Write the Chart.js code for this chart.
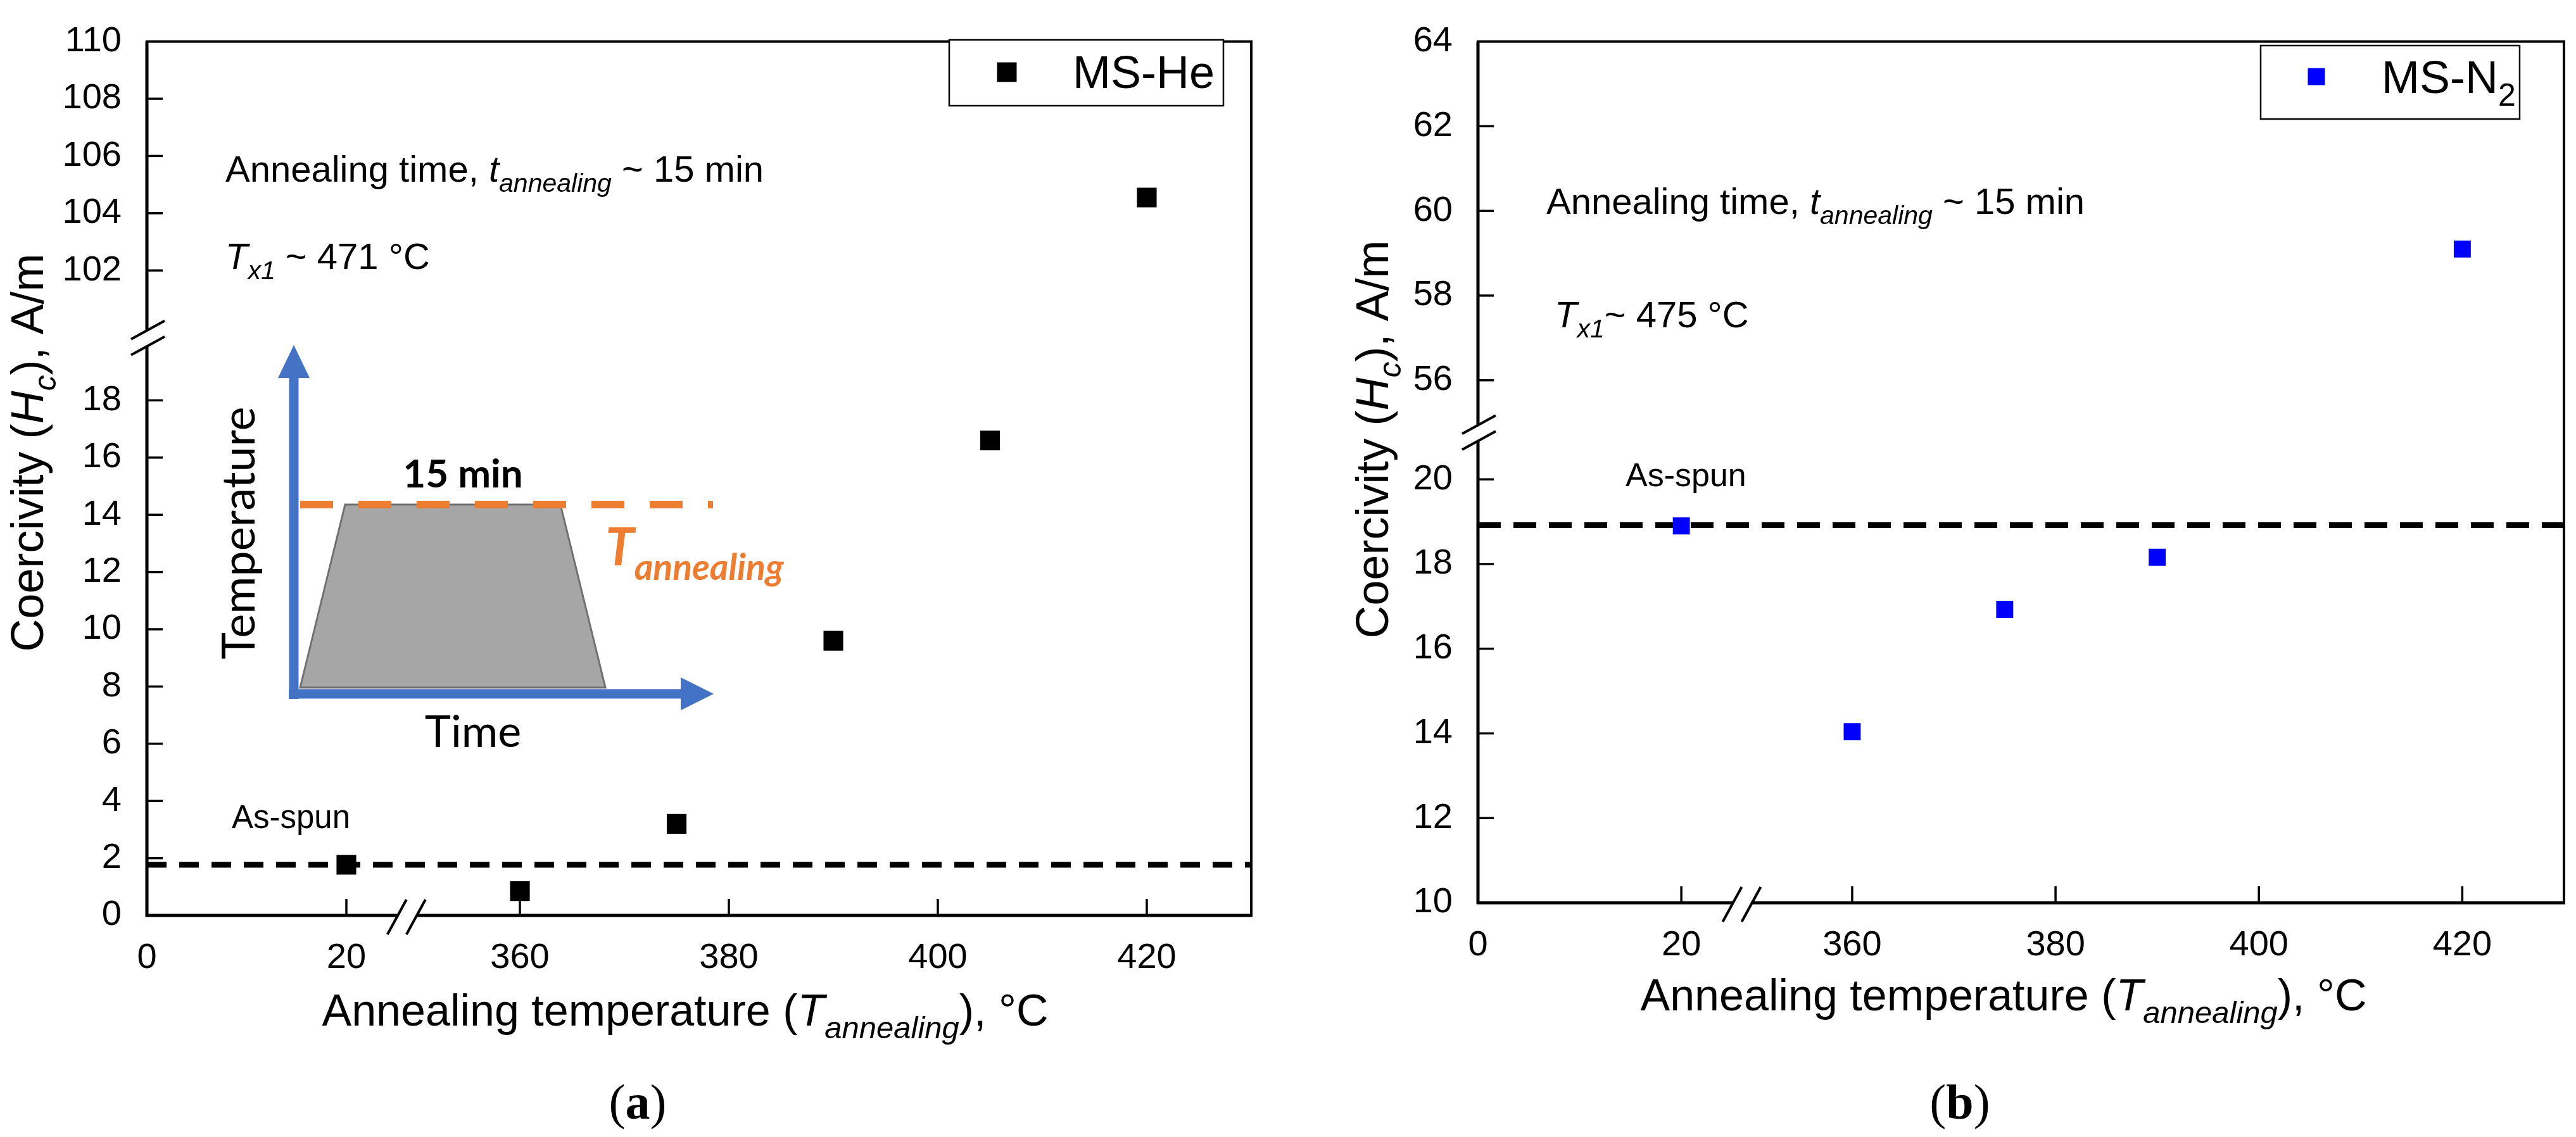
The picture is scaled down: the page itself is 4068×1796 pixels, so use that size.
<!DOCTYPE html>
<html>
<head>
<meta charset="utf-8">
<script src="https://cdn.jsdelivr.net/npm/chart.js@4.4.1/dist/chart.umd.min.js"></script>
<style>
  body { margin: 0; background: #fff; }
  #wrap { position: relative; width: 4068px; height: 1796px; background: #fff; }
  canvas { position: absolute; top: 0; }
  #chartA { left: 0; }
  #chartB { left: 2034px; }
</style>
</head>
<body>
<div id="wrap">
  <canvas id="chartA" width="2034" height="1796"></canvas>
  <canvas id="chartB" width="2034" height="1796"></canvas>
</div>
<script>
// ---- data ----
const tempHe = [20, 360, 375, 390, 405, 420];
const hcHe = [1.77, 0.85, 3.2, 9.6, 16.6, 104.55];
const asSpunHe = 1.77;

const tempN2 = [20, 360, 375, 390, 420];
const hcN2 = [18.9, 14.04, 16.93, 18.16, 59.1];
const asSpunN2 = 18.92;

const xTickLabels = [0, 20, 360, 380, 400, 420];
const yTicksHe = [0, 2, 4, 6, 8, 10, 12, 14, 16, 18, 102, 104, 106, 108, 110];
const yTicksN2 = [10, 12, 14, 16, 18, 20, 56, 58, 60, 62, 64];

const SANS = '"Liberation Sans", Arial, sans-serif';
const INSET = 'Lato, "Open Sans", sans-serif';
const SERIF = '"Liberation Serif", "Times New Roman", serif';

// broken axes: map real values onto one continuous scale
function brokenMap(lowEnd, lowFactor, offset) {
  return v => (v <= lowEnd ? v * lowFactor : v - offset);
}

// rich text: parts = [{t, it, b, sub}]
function partFont(p, size, family) {
  const s = p.sub ? size * 0.7 : size;
  return (p.it ? 'italic ' : '') + (p.b ? 'bold ' : '') + Math.round(s) + 'px ' + (p.family || family);
}
function drawRich(ctx, parts, x, y, size, align, color, family) {
  family = family || SANS;
  ctx.save();
  ctx.fillStyle = color || '#000';
  ctx.textBaseline = 'alphabetic';
  ctx.textAlign = 'left';
  let total = 0;
  parts.forEach(p => {
    ctx.font = partFont(p, size, family);
    p._w = ctx.measureText(p.t).width;
    total += p._w;
  });
  let cx = align === 'center' ? x - total / 2 : (align === 'right' ? x - total : x);
  parts.forEach(p => {
    ctx.font = partFont(p, size, family);
    ctx.fillText(p.t, cx, y + (p.sub ? size * 0.28 : 0));
    cx += p._w;
  });
  ctx.restore();
}
function drawRotated(ctx, parts, x, y, size, family) {
  ctx.save();
  ctx.translate(x, y);
  ctx.rotate(-Math.PI / 2);
  drawRich(ctx, parts, 0, 0, size, 'center', '#000', family);
  ctx.restore();
}

function line(ctx, x1, y1, x2, y2) {
  ctx.beginPath();
  ctx.moveTo(x1, y1);
  ctx.lineTo(x2, y2);
  ctx.stroke();
}

function arrow(ctx, x1, y1, x2, y2, shaft, headLen, headW) {
  const ang = Math.atan2(y2 - y1, x2 - x1);
  const len = Math.hypot(x2 - x1, y2 - y1);
  ctx.save();
  ctx.translate(x1, y1);
  ctx.rotate(ang);
  ctx.fillRect(0, -shaft / 2, len - headLen + 1, shaft);
  ctx.beginPath();
  ctx.moveTo(len, 0);
  ctx.lineTo(len - headLen, -headW / 2);
  ctx.lineTo(len - headLen, headW / 2);
  ctx.closePath();
  ctx.fill();
  ctx.restore();
}

// frame, inward ticks and break marks
function drawFrame(chart, cfg) {
  const ctx = chart.ctx;
  const a = chart.chartArea;
  const xs = chart.scales.x, ys = chart.scales.y;
  ctx.save();
  ctx.strokeStyle = '#000';
  ctx.lineCap = 'butt';
  ctx.lineWidth = 4;
  ctx.strokeRect(a.left, a.top, a.right - a.left, a.bottom - a.top);
  ctx.lineWidth = 5;
  line(ctx, a.left, a.top, a.left, a.bottom + 2);
  line(ctx, a.left - 2, a.bottom, a.right + 2, a.bottom);

  ctx.lineWidth = 3.5;
  ys.ticks.forEach(t => {
    const py = ys.getPixelForValue(t.value);
    if (py < a.top + 3 || py > a.bottom - 3) return;
    line(ctx, a.left, py, a.left + 25, py);
  });
  xs.ticks.forEach(t => {
    const px = xs.getPixelForValue(t.value);
    if (px < a.left + 3 || px > a.right - 3) return;
    line(ctx, px, a.bottom, px, a.bottom - 26);
  });

  // y break
  const by = ys.getPixelForValue(cfg.yBreak);
  ctx.fillStyle = '#fff';
  ctx.fillRect(a.left - 6, by - 12, 12, 24);
  ctx.lineWidth = 4;
  line(ctx, a.left - 25, by + 1, a.left + 28, by - 28);
  line(ctx, a.left - 25, by + 26, a.left + 28, by - 3);
  // x break
  const bx = xs.getPixelForValue(cfg.xBreak);
  ctx.fillRect(bx - 14, a.bottom - 6, 28, 12);
  line(ctx, bx - 31, a.bottom + 30, bx - 1, a.bottom - 25);
  line(ctx, bx - 1, a.bottom + 30, bx + 29, a.bottom - 25);
  ctx.restore();
}

function drawLegend(chart, box, color, side, parts) {
  const ctx = chart.ctx;
  ctx.save();
  ctx.fillStyle = '#fff';
  ctx.fillRect(box.x, box.y, box.w, box.h);
  ctx.strokeStyle = '#000';
  ctx.lineWidth = 2.5;
  ctx.strokeRect(box.x, box.y, box.w, box.h);
  ctx.fillStyle = color;
  ctx.fillRect(box.mx - side / 2, box.my - side / 2, side, side);
  ctx.restore();
  drawRich(ctx, parts, box.tx, box.ty, 72, 'left');
}

function drawInset(ctx) {
  ctx.save();
  // grey profile
  ctx.fillStyle = '#a6a6a6';
  ctx.strokeStyle = '#707070';
  ctx.lineWidth = 3;
  ctx.beginPath();
  ctx.moveTo(474, 1086);
  ctx.lineTo(545, 797);
  ctx.lineTo(885, 797);
  ctx.lineTo(956, 1086);
  ctx.closePath();
  ctx.fill();
  ctx.stroke();
  // orange dashed hold line
  ctx.strokeStyle = '#ed7d31';
  ctx.lineWidth = 12;
  ctx.setLineDash([52, 40]);
  line(ctx, 474, 797, 1126, 797);
  ctx.setLineDash([]);
  // blue axes
  ctx.fillStyle = '#4472c4';
  arrow(ctx, 464, 1104, 464, 545, 15, 52, 50);
  arrow(ctx, 456, 1096, 1127, 1096, 15, 52, 52);
  ctx.restore();

  drawRich(ctx, [{ t: '15 min', b: true }], 731, 770, 62, 'center', '#000', INSET);
  drawRich(ctx, [{ t: 'Time' }], 747, 1180, 70, 'center', '#000', INSET);
  drawRotated(ctx, [{ t: 'Temperature' }], 402, 842, 72, INSET);
  drawRich(ctx, [{ t: 'T', b: true, it: true }, { t: 'annealing', b: true, it: true, sub: true }],
    956, 893, 82, 'left', '#ed7d31', INSET);
}

function xTitle() {
  return [
    { t: 'Annealing temperature (' }, { t: 'T', it: true },
    { t: 'annealing', it: true, sub: true }, { t: '), \u00b0C' }
  ];
}
function yTitle() {
  return [
    { t: 'Coercivity (' }, { t: 'H', it: true }, { t: 'c', it: true, sub: true }, { t: '), A/m' }
  ];
}
function timeNote() {
  return [
    { t: 'Annealing time, ' }, { t: 't', it: true },
    { t: 'annealing', it: true, sub: true }, { t: ' ~ 15 min' }
  ];
}
function caption(ctx, letter, x, y) {
  drawRich(ctx, [{ t: '(' }, { t: letter, b: true }, { t: ')' }], x, y, 78, 'center', '#000', SERIF);
}

function makeChart(id, cfg) {
  const mapX = cfg.mapX, mapY = cfg.mapY;
  const decor = {
    id: 'decor' + id,
    afterDraw(chart) {
      const ctx = chart.ctx;
      drawFrame(chart, cfg);
      cfg.extra(chart, ctx);
    }
  };
  return new Chart(document.getElementById(id), {
    type: 'scatter',
    data: {
      datasets: [
        {
          label: cfg.label,
          data: cfg.temps.map((t, i) => ({ x: mapX(t), y: mapY(cfg.values[i]) })),
          pointStyle: 'rect',
          pointRadius: cfg.radius,
          backgroundColor: cfg.color,
          borderColor: cfg.color,
          borderWidth: 0
        },
        {
          label: 'As-spun',
          data: [{ x: 0, y: mapY(cfg.asSpun) }, { x: cfg.xMax, y: mapY(cfg.asSpun) }],
          showLine: true,
          borderColor: '#000',
          borderWidth: 9,
          borderDash: cfg.dash,
          pointRadius: 0,
          fill: false
        }
      ]
    },
    options: {
      responsive: false,
      animation: false,
      devicePixelRatio: 1,
      layout: { padding: { left: 0, top: 43, right: cfg.padRight, bottom: 0 } },
      plugins: { legend: { display: false }, tooltip: { enabled: false } },
      scales: {
        x: {
          type: 'linear', min: 0, max: cfg.xMax,
          grid: { display: false }, border: { display: false },
          afterBuildTicks: s => { s.ticks = xTickLabels.map(v => ({ value: mapX(v) })); },
          afterFit: s => { s.height = cfg.xBoxH; },
          ticks: {
            autoSkip: false, maxRotation: 0, padding: 26, color: '#000',
            font: { family: SANS, size: 56 },
            callback: (v, i) => String(xTickLabels[i])
          }
        },
        y: {
          type: 'linear', min: cfg.yMin, max: cfg.yMax,
          grid: { display: false }, border: { display: false },
          afterBuildTicks: s => { s.ticks = cfg.yTicks.map(v => ({ value: mapY(v) })); },
          afterFit: s => { s.width = cfg.yBoxW; },
          ticks: {
            autoSkip: false, padding: 32, color: '#000',
            font: { family: SANS, size: 56 },
            callback: (v, i) => String(cfg.yTicks[i])
          }
        }
      }
    },
    plugins: [decor]
  });
}

// (a) MS-He
makeChart('chartA', {
  label: 'MS-He', temps: tempHe, values: hcHe, asSpun: asSpunHe, yTicks: yTicksHe,
  mapX: brokenMap(20, 0.9545, 324.3), mapY: brokenMap(50, 1, 79.46),
  xMax: 105.7, yMin: 0, yMax: 30.54, xBreak: 24.9, yBreak: 20.16,
  color: '#000', radius: 22, dash: [31, 20],
  padRight: 58, yBoxW: 232, xBoxH: 350,
  extra(chart, ctx) {
    drawInset(ctx);
    drawRich(ctx, timeNote(), 356, 287, 58, 'left');
    drawRich(ctx, [{ t: 'T', it: true }, { t: 'x1', it: true, sub: true }, { t: ' ~ 471 \u00b0C' }], 356, 425, 58, 'left');
    drawRich(ctx, [{ t: 'As-spun' }], 366, 1308, 51, 'left');
    drawLegend(chart, { x: 1499, y: 63, w: 433, h: 104, mx: 1590, my: 114, tx: 1694, ty: 139 },
      '#000', 31, [{ t: 'MS-He' }]);
    drawRich(ctx, xTitle(), 1082, 1620, 70, 'center');
    drawRotated(ctx, yTitle(), 68, 715, 72);
    caption(ctx, 'a', 1007, 1767);
  }
});

// (b) MS-N2
makeChart('chartB', {
  label: 'MS-N2', temps: tempN2, values: hcN2, asSpun: asSpunN2, yTicks: yTicksN2,
  mapX: brokenMap(20, 1, 323.2), mapY: brokenMap(30, 1, 33.66),
  xMax: 106.8, yMin: 10, yMax: 30.34, xBreak: 26.0, yBreak: 21.09,
  color: '#0000ff', radius: 19, dash: [36, 20],
  padRight: 17, yBoxW: 300, xBoxH: 370,
  extra(chart, ctx) {
    drawRich(ctx, timeNote(), 408, 338, 58, 'left');
    drawRich(ctx, [{ t: 'T', it: true }, { t: 'x1', it: true, sub: true }, { t: '~ 475 \u00b0C' }], 421, 517, 58, 'left');
    drawRich(ctx, [{ t: 'As-spun' }], 533, 768, 52, 'left');
    drawLegend(chart, { x: 1536, y: 72, w: 409, h: 116, mx: 1624, my: 121, tx: 1727, ty: 147 },
      '#0000ff', 27, [{ t: 'MS-N' }, { t: '2', sub: true }]);
    drawRich(ctx, xTitle(), 1130, 1596, 70, 'center');
    drawRotated(ctx, yTitle(), 158, 694, 72);
    caption(ctx, 'b', 1061, 1767);
  }
});
</script>
</body>
</html>
